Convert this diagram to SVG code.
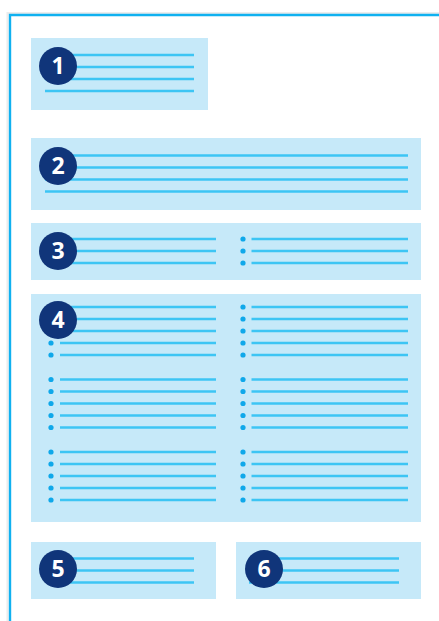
<svg xmlns="http://www.w3.org/2000/svg" width="439" height="621" viewBox="0 0 439 621">
<defs>
<style>
.frame{fill:none;stroke:#10b1f0;stroke-width:2.4}
.shadow{fill:none;stroke:#ececec;stroke-width:2}
.box{fill:#c6e9f9}
.ln{stroke:#3dc5f4;stroke-width:2.3;stroke-linecap:butt}
.dot{fill:#0fa8ea}
.badge{fill:#10357a}
.num{fill:#ffffff;font-family:"Open Sans","DejaVu Sans",sans-serif;font-weight:700;font-size:23px;text-anchor:middle}
</style>
</defs>
<rect width="439" height="621" fill="#ffffff"/>
<g id="frame">
<path class="shadow" d="M7.5 630 V13 H440"/>
<path class="frame" d="M10 630 V15 H445"/>
</g>
<g id="node1">
<rect class="box" x="31" y="38" width="177" height="72"/>
<line class="ln" x1="45" y1="55" x2="194" y2="55"/>
<line class="ln" x1="45" y1="67" x2="194" y2="67"/>
<line class="ln" x1="45" y1="79" x2="194" y2="79"/>
<line class="ln" x1="45" y1="91" x2="194" y2="91"/>
<circle class="badge" cx="58" cy="66" r="19"/>
<text class="num" x="58" y="74">1</text>
</g>
<g id="node2">
<rect class="box" x="31" y="138" width="390" height="72"/>
<line class="ln" x1="45" y1="155.5" x2="408" y2="155.5"/>
<line class="ln" x1="45" y1="167.5" x2="408" y2="167.5"/>
<line class="ln" x1="45" y1="179.5" x2="408" y2="179.5"/>
<line class="ln" x1="45" y1="191.5" x2="408" y2="191.5"/>
<circle class="badge" cx="58" cy="166" r="19"/>
<text class="num" x="58" y="174">2</text>
</g>
<g id="node3">
<rect class="box" x="31" y="223" width="390" height="57"/>
<line class="ln" x1="60" y1="239" x2="216" y2="239"/>
<line class="ln" x1="60" y1="251" x2="216" y2="251"/>
<line class="ln" x1="60" y1="263" x2="216" y2="263"/>
<circle class="dot" cx="243" cy="239" r="2.6"/>
<circle class="dot" cx="243" cy="251" r="2.6"/>
<circle class="dot" cx="243" cy="263" r="2.6"/>
<line class="ln" x1="251.5" y1="239" x2="408" y2="239"/>
<line class="ln" x1="251.5" y1="251" x2="408" y2="251"/>
<line class="ln" x1="251.5" y1="263" x2="408" y2="263"/>
<circle class="badge" cx="58" cy="251" r="19"/>
<text class="num" x="58" y="259">3</text>
</g>
<g id="node4">
<rect class="box" x="31" y="294" width="390" height="228"/>
<g id="col-left">
<circle class="dot" cx="51" cy="307" r="2.6"/><line class="ln" x1="60" y1="307" x2="216" y2="307"/>
<circle class="dot" cx="51" cy="319" r="2.6"/><line class="ln" x1="60" y1="319" x2="216" y2="319"/>
<circle class="dot" cx="51" cy="331" r="2.6"/><line class="ln" x1="60" y1="331" x2="216" y2="331"/>
<circle class="dot" cx="51" cy="343" r="2.6"/><line class="ln" x1="60" y1="343" x2="216" y2="343"/>
<circle class="dot" cx="51" cy="355" r="2.6"/><line class="ln" x1="60" y1="355" x2="216" y2="355"/>
<circle class="dot" cx="51" cy="379.5" r="2.6"/><line class="ln" x1="60" y1="379.5" x2="216" y2="379.5"/>
<circle class="dot" cx="51" cy="391.5" r="2.6"/><line class="ln" x1="60" y1="391.5" x2="216" y2="391.5"/>
<circle class="dot" cx="51" cy="403.5" r="2.6"/><line class="ln" x1="60" y1="403.5" x2="216" y2="403.5"/>
<circle class="dot" cx="51" cy="415.5" r="2.6"/><line class="ln" x1="60" y1="415.5" x2="216" y2="415.5"/>
<circle class="dot" cx="51" cy="427.5" r="2.6"/><line class="ln" x1="60" y1="427.5" x2="216" y2="427.5"/>
<circle class="dot" cx="51" cy="452" r="2.6"/><line class="ln" x1="60" y1="452" x2="216" y2="452"/>
<circle class="dot" cx="51" cy="464" r="2.6"/><line class="ln" x1="60" y1="464" x2="216" y2="464"/>
<circle class="dot" cx="51" cy="476" r="2.6"/><line class="ln" x1="60" y1="476" x2="216" y2="476"/>
<circle class="dot" cx="51" cy="488" r="2.6"/><line class="ln" x1="60" y1="488" x2="216" y2="488"/>
<circle class="dot" cx="51" cy="500" r="2.6"/><line class="ln" x1="60" y1="500" x2="216" y2="500"/>
</g>
<g id="col-right">
<circle class="dot" cx="243" cy="307" r="2.6"/><line class="ln" x1="251.5" y1="307" x2="408" y2="307"/>
<circle class="dot" cx="243" cy="319" r="2.6"/><line class="ln" x1="251.5" y1="319" x2="408" y2="319"/>
<circle class="dot" cx="243" cy="331" r="2.6"/><line class="ln" x1="251.5" y1="331" x2="408" y2="331"/>
<circle class="dot" cx="243" cy="343" r="2.6"/><line class="ln" x1="251.5" y1="343" x2="408" y2="343"/>
<circle class="dot" cx="243" cy="355" r="2.6"/><line class="ln" x1="251.5" y1="355" x2="408" y2="355"/>
<circle class="dot" cx="243" cy="379.5" r="2.6"/><line class="ln" x1="251.5" y1="379.5" x2="408" y2="379.5"/>
<circle class="dot" cx="243" cy="391.5" r="2.6"/><line class="ln" x1="251.5" y1="391.5" x2="408" y2="391.5"/>
<circle class="dot" cx="243" cy="403.5" r="2.6"/><line class="ln" x1="251.5" y1="403.5" x2="408" y2="403.5"/>
<circle class="dot" cx="243" cy="415.5" r="2.6"/><line class="ln" x1="251.5" y1="415.5" x2="408" y2="415.5"/>
<circle class="dot" cx="243" cy="427.5" r="2.6"/><line class="ln" x1="251.5" y1="427.5" x2="408" y2="427.5"/>
<circle class="dot" cx="243" cy="452" r="2.6"/><line class="ln" x1="251.5" y1="452" x2="408" y2="452"/>
<circle class="dot" cx="243" cy="464" r="2.6"/><line class="ln" x1="251.5" y1="464" x2="408" y2="464"/>
<circle class="dot" cx="243" cy="476" r="2.6"/><line class="ln" x1="251.5" y1="476" x2="408" y2="476"/>
<circle class="dot" cx="243" cy="488" r="2.6"/><line class="ln" x1="251.5" y1="488" x2="408" y2="488"/>
<circle class="dot" cx="243" cy="500" r="2.6"/><line class="ln" x1="251.5" y1="500" x2="408" y2="500"/>
</g>
<circle class="badge" cx="58" cy="320" r="19"/>
<text class="num" x="58" y="328">4</text>
</g>
<g id="node5">
<rect class="box" x="31" y="542" width="185" height="57"/>
<line class="ln" x1="60" y1="558.5" x2="194" y2="558.5"/>
<line class="ln" x1="60" y1="570.5" x2="194" y2="570.5"/>
<line class="ln" x1="60" y1="582.5" x2="194" y2="582.5"/>
<circle class="badge" cx="58" cy="569" r="19"/>
<text class="num" x="58" y="577">5</text>
</g>
<g id="node6">
<rect class="box" x="236" y="542" width="185" height="57"/>
<line class="ln" x1="249" y1="558.5" x2="399" y2="558.5"/>
<line class="ln" x1="249" y1="570.5" x2="399" y2="570.5"/>
<line class="ln" x1="249" y1="582.5" x2="399" y2="582.5"/>
<circle class="badge" cx="264" cy="569" r="19"/>
<text class="num" x="264" y="577">6</text>
</g>
<g id="connectors"></g>
</svg>
